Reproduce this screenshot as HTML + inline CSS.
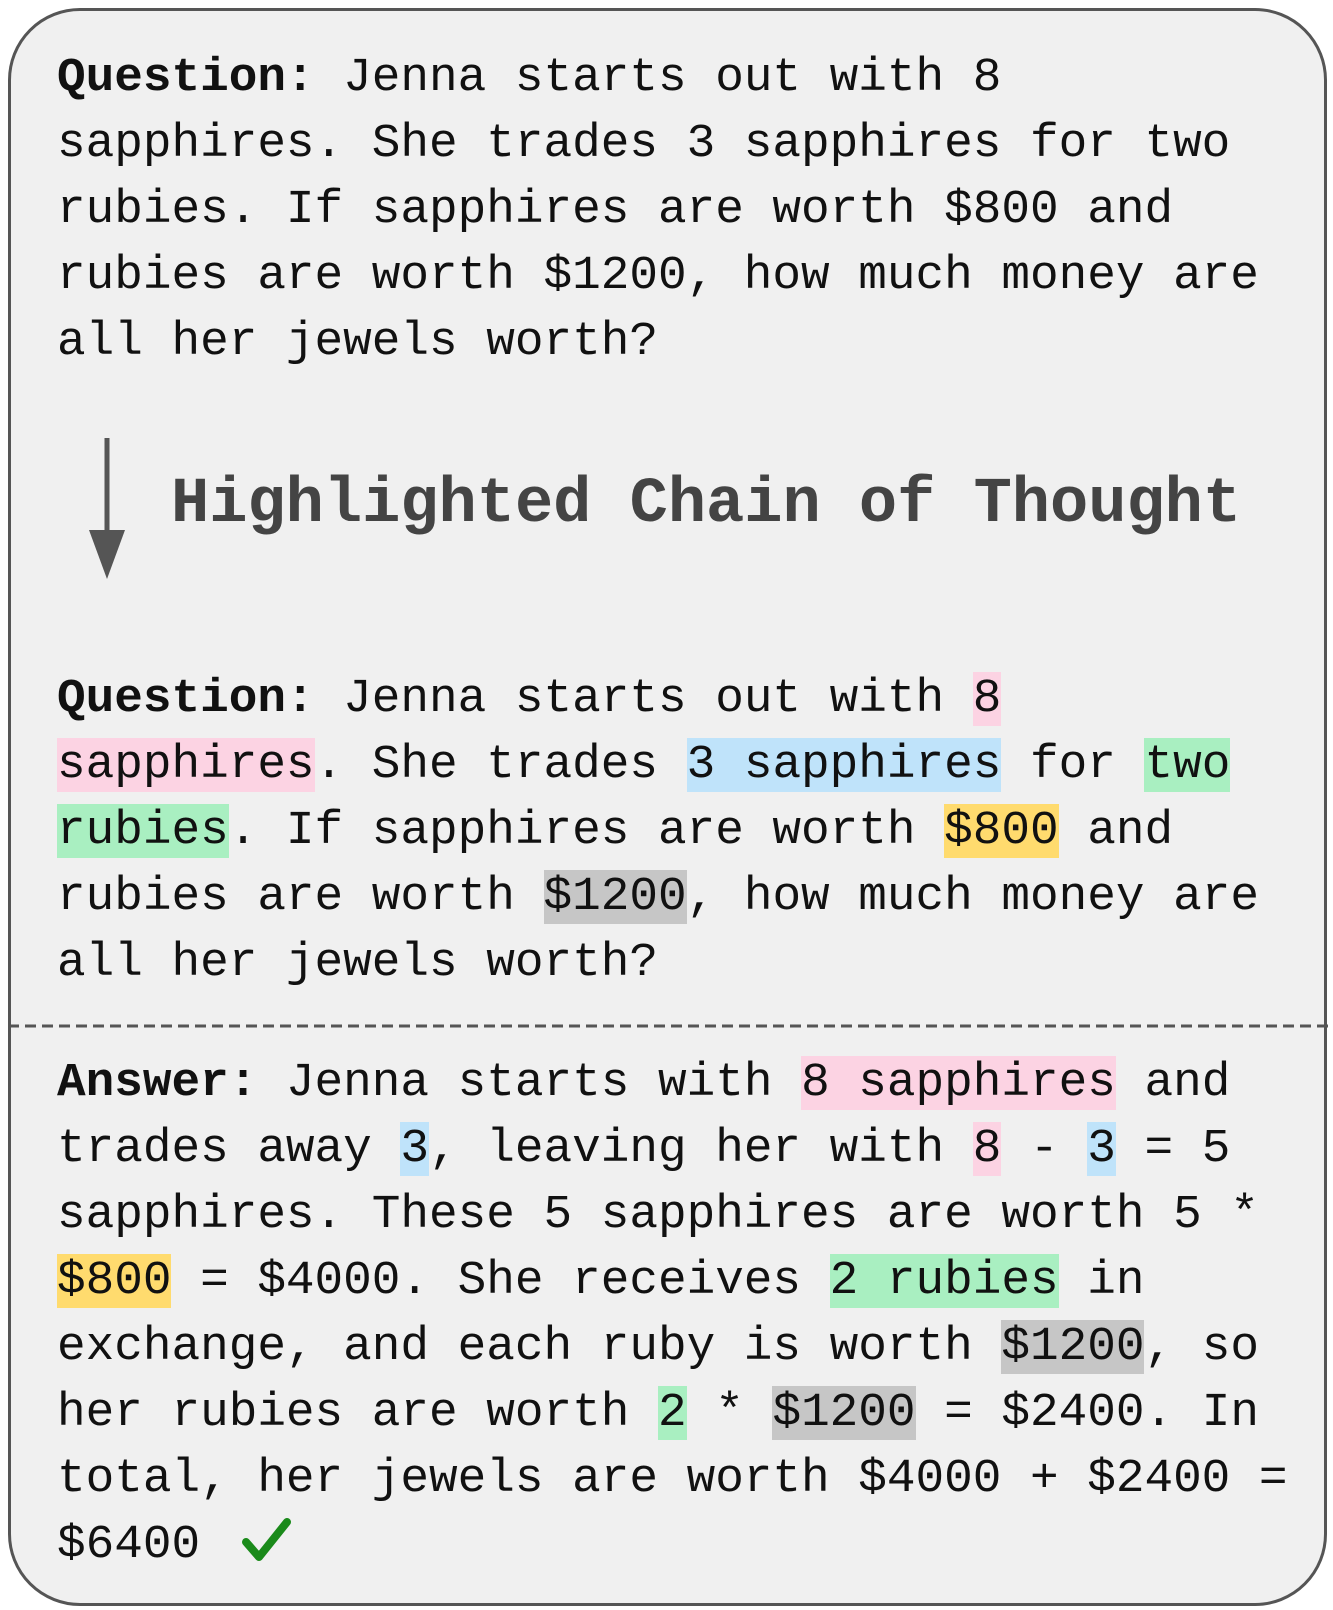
<!DOCTYPE html>
<html><head><meta charset="utf-8"><style>
html,body{margin:0;padding:0;background:#fff;}
#root{position:relative;width:1333px;height:1610px;overflow:hidden;}
#card{position:absolute;left:8px;top:8px;width:1313px;height:1592px;border:3px solid #555;border-radius:72px;background:#f0f0f0;}
.blk{position:absolute;left:57px;font-family:"Liberation Mono",monospace;font-size:47.7px;line-height:66px;color:#111;white-space:pre;}
.blk b{font-weight:bold;}
.p{background:#fcd3e3}.bl{background:#bfe3fa}.g{background:#a9efc1}.y{background:#ffdb6e}.gr{background:#c6c6c6}
#heading{position:absolute;left:171px;top:463px;font-family:"Liberation Mono",monospace;font-weight:bold;font-size:63.7px;color:#444;white-space:pre;line-height:84px;}
</style></head><body><div id="root">
<div id="card"></div>
<div class="blk" style="top:45px"><b>Question:</b> Jenna starts out with 8
sapphires. She trades 3 sapphires for two
rubies. If sapphires are worth $800 and
rubies are worth $1200, how much money are
all her jewels worth?</div>
<svg style="position:absolute;left:88px;top:438px" width="40" height="142"><line x1="19" y1="0" x2="19" y2="100" stroke="#555" stroke-width="5"/><polygon points="1,92 37,92 19,141" fill="#555"/></svg>
<div id="heading">Highlighted Chain of Thought</div>
<div class="blk" style="top:666px"><b>Question:</b> Jenna starts out with <span class="p">8</span>
<span class="p">sapphires</span>. She trades <span class="bl">3 sapphires</span> for <span class="g">two</span>
<span class="g">rubies</span>. If sapphires are worth <span class="y">$800</span> and
rubies are worth <span class="gr">$1200</span>, how much money are
all her jewels worth?</div>
<svg style="position:absolute;left:8px;top:1023px" width="1320" height="6"><line x1="0" y1="3" x2="1320" y2="3" stroke="#555" stroke-width="3" stroke-dasharray="11,6"/></svg>
<div class="blk" style="top:1050px"><b>Answer:</b> Jenna starts with <span class="p">8 sapphires</span> and
trades away <span class="bl">3</span>, leaving her with <span class="p">8</span> - <span class="bl">3</span> = 5
sapphires. These 5 sapphires are worth 5 *
<span class="y">$800</span> = $4000. She receives <span class="g">2 rubies</span> in
exchange, and each ruby is worth <span class="gr">$1200</span>, so
her rubies are worth <span class="g">2</span> * <span class="gr">$1200</span> = $2400. In
total, her jewels are worth $4000 + $2400 =
$6400</div>
<svg style="position:absolute;left:242px;top:1518px" width="50" height="46"><polyline points="4,24 17,39 45,4" fill="none" stroke="#1a8a1a" stroke-width="8" stroke-linecap="round" stroke-linejoin="round"/></svg>
</div></body></html>
